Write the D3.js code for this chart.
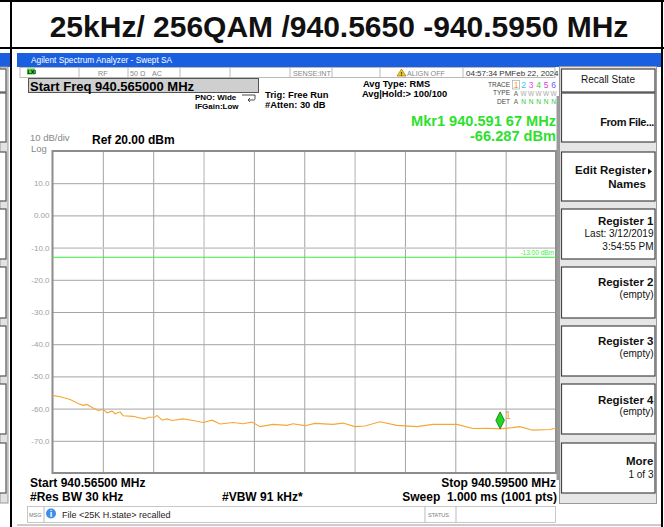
<!DOCTYPE html>
<html>
<head>
<meta charset="utf-8">
<script src="https://cdn.jsdelivr.net/npm/d3@7"></script>
<style>
body { margin: 0; background: #fff; }
svg { display: block; font-family: "Liberation Sans", Arial, sans-serif; }
</style>
</head>
<body>
<script>
const title = "25kHz/ 256QAM /940.5650 -940.5950 MHz"
const startFreq = 940.565
const stopFreq = 940.595
const refLevel = 20
const dbPerDiv = 10
const yTickValues = [10, 0, -10, -20, -30, -40, -50, -60, -70]
const yTickLabels = ["10.0", "0.00", "-10.0", "-20.0", "-30.0", "-40.0", "-50.0", "-60.0", "-70.0"]
const limitLevel = -13
const limitLabel = "-13.00 dBm"

const traceFreq = [940.56500, 940.56546, 940.56605, 940.56653, 940.56683, 940.56705, 940.56742, 940.56772,
    940.56802, 940.56826, 940.56855, 940.56873, 940.56903, 940.56921, 940.56980, 940.57022, 940.57052,
    940.57070, 940.57111, 940.57123, 940.57153, 940.57183, 940.57213, 940.57278, 940.57338, 940.57397,
    940.57451, 940.57498, 940.57576, 940.57635, 940.57689, 940.57736, 940.57814, 940.57897, 940.57933,
    940.58004, 940.58064, 940.58171, 940.58231, 940.58302, 940.58362, 940.58451, 940.58552, 940.58671,
    940.58766, 940.58909, 940.59004, 940.59087, 940.59167, 940.59242, 940.59284, 940.59361, 940.59463, 940.59500]
const traceLevel = [-55.9, -56.3, -57.2, -58.4, -59.0, -58.7, -59.8, -60.6,
    -60.3, -61.3, -60.8, -61.6, -61.0, -62.2, -62.4, -62.9, -63.2,
    -62.7, -62.6, -62.1, -63.6, -63.2, -63.7, -63.2, -63.7, -64.3,
    -63.6, -64.8, -64.3, -64.7, -64.2, -65.6, -64.9, -65.2, -64.7,
    -65.3, -64.6, -64.9, -64.5, -65.6, -65.4, -64.1, -65.2, -65.6,
    -64.9, -64.9, -66.2, -66.1, -66.29, -65.9, -65.6, -66.7, -66.5, -66.1]

const markerFreq = 940.59167
const markerLevel = -66.287

const softkeyLabels = [
    ["Recall State"],
    ["From File..."],
    ["Edit Register", "Names"],
    ["Register 1", "Last: 3/12/2019", "3:54:55 PM"],
    ["Register 2", "(empty)"],
    ["Register 3", "(empty)"],
    ["Register 4", "(empty)"],
    ["More", "1 of 3"]
]
const statusCells = ["RF", "50 Ω", "AC", "", "", "SENSE:INT", "ALIGN OFF", "04:57:34 PMFeb 22, 2024"]
const traceNumbers = ["1", "2", "3", "4", "5", "6"]
const traceColors = ["#f0a030", "#30c8e8", "#f040f0", "#40d040", "#e040d0", "#6a5cf0"]

//------------------------------------------------------------------------------

const W = 664, H = 527
const svg = d3.select("body").append("svg")
    .attr("width", W)
    .attr("height", H)

svg.append("rect").attr("width", W).attr("height", H).attr("fill", "#fff")

// title cell + black frame
svg.append("text")
    .attr("x", 339)
    .attr("y", 37)
    .attr("text-anchor", "middle")
    .attr("font-size", 30)
    .attr("font-weight", "bold")
    .attr("fill", "#111")
    .text(title)

svg.append("rect").attr("x", 0).attr("y", 0).attr("width", W).attr("height", 2).attr("fill", "#000")
svg.append("rect").attr("x", 0).attr("y", 47).attr("width", W).attr("height", 2).attr("fill", "#000")
svg.append("rect").attr("x", 10).attr("y", 0).attr("width", 2).attr("height", H).attr("fill", "#000")
svg.append("rect").attr("x", 661).attr("y", 0).attr("width", 2).attr("height", H).attr("fill", "#000")

// neighbour screenshot cut at the left
const keyBoxes = [[69, 92], [93, 142], [152, 201], [209, 259], [267, 318], [326, 376], [384, 434], [443, 493]]
svg.append("rect").attr("x", 0).attr("y", 53).attr("width", 10).attr("height", 14).attr("fill", "#1a5fe0")
svg.append("rect").attr("x", 0).attr("y", 67).attr("width", 8).attr("height", 436)
    .attr("fill", "#e2e2e2").attr("stroke", "#999")
keyBoxes.forEach(b => {
    svg.append("rect").attr("x", -20).attr("y", b[0]).attr("width", 26).attr("height", b[1] - b[0])
        .attr("fill", "#fff").attr("stroke", "#555").attr("stroke-width", 1.2)
})

//------------------------------------------------------------------------------
// analyzer window

svg.append("rect").attr("x", 17).attr("y", 53).attr("width", 644).attr("height", 14).attr("fill", "#1a5fe0")
svg.append("text").attr("x", 31).attr("y", 63).attr("font-size", 8.3).attr("fill", "#fff")
    .text("Agilent Spectrum Analyzer - Swept SA")

// status row
svg.append("rect").attr("x", 20).attr("y", 67.5).attr("width", 535).attr("height", 10)
    .attr("fill", "#fff").attr("stroke", "#aaa").attr("stroke-width", 0.8)
svg.append("rect").attr("x", 27).attr("y", 68.5).attr("width", 8).attr("height", 6).attr("fill", "#4cd43a")
svg.append("text").attr("x", 27.5).attr("y", 74).attr("font-size", 5.5).attr("font-weight", "bold").text("LXI")

const dividers = [79, 128, 180, 230, 290, 332, 380, 463]
dividers.forEach(dx => {
    svg.append("line").attr("x1", dx).attr("x2", dx).attr("y1", 67.5).attr("y2", 77.5)
        .attr("stroke", "#aaa").attr("stroke-width", 0.8)
})
const cellX = [98, 130, 152, 0, 0, 293, 407, 466]
statusCells.forEach((t, i) => {
    if (t === "") return
    svg.append("text").attr("x", cellX[i]).attr("y", 75.5)
        .attr("font-size", i === 7 ? 8 : 7.2)
        .attr("fill", i === 7 ? "#333" : "#888")
        .text(t)
})
svg.append("path").attr("d", "M401.5,69 L406,76 L397,76 Z").attr("fill", "#f2d020").attr("stroke", "#806000").attr("stroke-width", 0.6)
svg.append("text").attr("x", 401.5).attr("y", 75.5).attr("text-anchor", "middle").attr("font-size", 5.5)
    .attr("font-weight", "bold").text("!")

// active function box
svg.append("rect").attr("x", 28.5).attr("y", 78.5).attr("width", 230).attr("height", 14)
    .attr("fill", "#cfcfcf").attr("stroke", "#555").attr("stroke-width", 1)
svg.append("text").attr("x", 30).attr("y", 90.5).attr("font-size", 13).attr("font-weight", "bold")
    .text("Start Freq 940.565000 MHz")

svg.append("text").attr("x", 195).attr("y", 99.5).attr("font-size", 8).attr("font-weight", "bold").text("PNO: Wide")
svg.append("text").attr("x", 195).attr("y", 108.5).attr("font-size", 8).attr("font-weight", "bold").text("IFGain:Low")
svg.append("path").attr("d", "M242,95 L255,95 L255,98.5 Q255,100 253.5,100 L248,100 M250,98 L248,100 L250,102")
    .attr("fill", "none").attr("stroke", "#333").attr("stroke-width", 0.9)

svg.append("text").attr("x", 265).attr("y", 98).attr("font-size", 9.4).attr("font-weight", "bold").text("Trig: Free Run")
svg.append("text").attr("x", 265).attr("y", 108).attr("font-size", 9.4).attr("font-weight", "bold").text("#Atten: 30 dB")

svg.append("text").attr("x", 363).attr("y", 86.5).attr("font-size", 9.3).attr("font-weight", "bold").text("Avg Type: RMS")
svg.append("text").attr("x", 362).attr("y", 97).attr("font-size", 9.3).attr("font-weight", "bold").text("Avg|Hold:> 100/100")

// trace header
const hdr = svg.append("g").attr("font-size", 6.5)
hdr.append("text").attr("x", 510).attr("y", 86.5).attr("text-anchor", "end").attr("fill", "#444").text("TRACE")
hdr.append("text").attr("x", 510).attr("y", 95).attr("text-anchor", "end").attr("fill", "#444").text("TYPE")
hdr.append("text").attr("x", 510).attr("y", 104).attr("text-anchor", "end").attr("fill", "#444").text("DET")
hdr.append("rect").attr("x", 512.5).attr("y", 80.5).attr("width", 7).attr("height", 8.5)
    .attr("fill", "none").attr("stroke", "#aaa").attr("stroke-width", 0.7)
traceNumbers.forEach((n, i) => {
    const tx = 516 + i * 7.5
    hdr.append("text").attr("x", tx).attr("y", 87.5).attr("text-anchor", "middle")
        .attr("font-size", 8.5).attr("fill", traceColors[i]).text(n)
    hdr.append("text").attr("x", tx).attr("y", 95.5).attr("text-anchor", "middle")
        .attr("fill", i === 0 ? "#666" : "#aaa").text(i === 0 ? "A" : "W")
    hdr.append("text").attr("x", tx).attr("y", 104).attr("text-anchor", "middle")
        .attr("fill", i === 0 ? "#666" : "#2cc82c").text(i === 0 ? "A" : "N")
})

// marker readout
svg.append("text").attr("x", 556).attr("y", 125.5).attr("text-anchor", "end")
    .attr("font-size", 14).attr("font-weight", "bold").attr("fill", "#2ee02e")
    .attr("textLength", 145).attr("lengthAdjust", "spacingAndGlyphs")
    .text("Mkr1 940.591 67 MHz")
svg.append("text").attr("x", 556).attr("y", 140.5).attr("text-anchor", "end")
    .attr("font-size", 14).attr("font-weight", "bold").attr("fill", "#2ee02e")
    .attr("textLength", 86).attr("lengthAdjust", "spacingAndGlyphs")
    .text("-66.287 dBm")

svg.append("text").attr("x", 30).attr("y", 141).attr("font-size", 9.5).attr("fill", "#888").text("10 dB/div")
svg.append("text").attr("x", 31).attr("y", 152).attr("font-size", 9.5).attr("fill", "#888").text("Log")
svg.append("text").attr("x", 92).attr("y", 144).attr("font-size", 12).attr("font-weight", "bold").text("Ref 20.00 dBm")

//------------------------------------------------------------------------------
// graticule

const gLeft = 52.5, gRight = 556, gTop = 151, gBottom = 473

let x = d3.scaleLinear()
    .domain([startFreq, stopFreq])
    .range([gLeft, gRight])

let y = d3.scaleLinear()
    .domain([refLevel - 10 * dbPerDiv, refLevel])
    .range([gBottom, gTop])

const xGrid = d3.range(1, 10).map(i => startFreq + i * (stopFreq - startFreq) / 10)
const yGrid = d3.range(1, 10).map(i => refLevel - i * dbPerDiv)

svg.append("g")
    .attr("transform", "translate(0," + gBottom + ")")
    .call(d3.axisBottom(x).tickValues(xGrid).tickSize(-(gBottom - gTop)).tickFormat(""))
    .call(g => g.select(".domain").remove())
    .call(g => g.selectAll(".tick line")
        .attr("stroke", (d, i) => (i === 2 || i === 5) ? "#cfcfcf" : "#a4a4a4")
        .attr("stroke-width", (d, i) => (i === 2 || i === 5) ? 1.6 : 1))

svg.append("g")
    .attr("transform", "translate(" + gLeft + ",0)")
    .call(d3.axisLeft(y).tickValues(yGrid).tickSize(-(gRight - gLeft)).tickFormat(""))
    .call(g => g.select(".domain").remove())
    .call(g => g.selectAll(".tick line")
        .attr("stroke", d => d === -10 ? "#cfcfcf" : "#a4a4a4")
        .attr("stroke-width", d => d === -10 ? 1.6 : 1))

svg.append("g")
    .attr("transform", "translate(" + gLeft + ",0)")
    .call(d3.axisLeft(y).tickValues(yTickValues).tickSize(0).tickPadding(3)
        .tickFormat((d, i) => yTickLabels[i]))
    .call(g => g.select(".domain").remove())
    .call(g => g.selectAll("text")
        .attr("font-family", "'Liberation Sans', Arial, sans-serif")
        .attr("font-size", 8)
        .attr("fill", "#a0a0a0"))

svg.append("rect")
    .attr("x", gLeft).attr("y", gTop)
    .attr("width", gRight - gLeft).attr("height", gBottom - gTop)
    .attr("fill", "none").attr("stroke", "#8c8c8c").attr("stroke-width", 2)

svg.append("rect").attr("x", 556.5).attr("y", 96).attr("width", 3).attr("height", 384).attr("fill", "#9a9a9a")

// display line
svg.append("line")
    .attr("x1", gLeft).attr("x2", gRight)
    .attr("y1", y(limitLevel)).attr("y2", y(limitLevel))
    .attr("stroke", "#3cf03c").attr("stroke-width", 1)
svg.append("text")
    .attr("x", gRight - 2).attr("y", y(limitLevel) - 2.5)
    .attr("text-anchor", "end").attr("font-size", 6.5).attr("fill", "#3cf03c")
    .text(limitLabel)

// trace
const traceData = traceFreq.map((f, i) => [f, traceLevel[i]])
svg.append("path")
    .datum(traceData)
    .attr("d", d3.line().x(d => x(d[0])).y(d => y(d[1])))
    .attr("fill", "none")
    .attr("stroke", "#f6a632")
    .attr("stroke-width", 1.1)

// marker
const mx = x(markerFreq), my = y(markerLevel)
svg.append("path")
    .attr("d", `M${mx},${my} L${mx + 4.3},${my - 8.5} L${mx},${my - 17} L${mx - 4.3},${my - 8.5} Z`)
    .attr("fill", "#22d622").attr("stroke", "#0b6e0b").attr("stroke-width", 0.8)
svg.append("text").attr("x", mx + 5).attr("y", my - 10).attr("font-size", 11).attr("fill", "#f6a632").text("1")

//------------------------------------------------------------------------------
// bottom annotations

const foot = svg.append("g").attr("font-size", 12).attr("font-weight", "bold")
foot.append("text").attr("x", 30).attr("y", 487).text("Start 940.56500 MHz")
foot.append("text").attr("x", 30).attr("y", 501).text("#Res BW 30 kHz")
foot.append("text").attr("x", 222).attr("y", 501).text("#VBW 91 kHz*")
foot.append("text").attr("x", 556).attr("y", 487).attr("text-anchor", "end").text("Stop 940.59500 MHz")
foot.append("text").attr("x", 557).attr("y", 501).attr("text-anchor", "end").attr("xml:space", "preserve")
    .text("Sweep  1.000 ms (1001 pts)")

svg.append("rect").attr("x", 27.5).attr("y", 506.5).attr("width", 528).attr("height", 16)
    .attr("fill", "#fff").attr("stroke", "#bbb").attr("stroke-width", 0.8)
svg.append("line").attr("x1", 44).attr("x2", 44).attr("y1", 506.5).attr("y2", 522.5).attr("stroke", "#bbb")
svg.append("line").attr("x1", 425).attr("x2", 425).attr("y1", 506.5).attr("y2", 522.5).attr("stroke", "#bbb")
svg.append("line").attr("x1", 456).attr("x2", 456).attr("y1", 506.5).attr("y2", 522.5).attr("stroke", "#bbb")
svg.append("text").attr("x", 29).attr("y", 517).attr("font-size", 5.5).attr("fill", "#777").text("MSG")
svg.append("circle").attr("cx", 51).attr("cy", 513.5).attr("r", 5).attr("fill", "#3d8ee8")
svg.append("text").attr("x", 51).attr("y", 517).attr("text-anchor", "middle").attr("font-size", 9)
    .attr("font-weight", "bold").attr("fill", "#fff").text("i")
svg.append("text").attr("x", 62).attr("y", 518).attr("font-size", 9).attr("fill", "#222").text("File <25K H.state> recalled")
svg.append("text").attr("x", 428).attr("y", 516.5).attr("font-size", 5.5).attr("fill", "#777").text("STATUS")
svg.append("line").attr("x1", 17).attr("x2", 661).attr("y1", 525).attr("y2", 525).attr("stroke", "#999")

//------------------------------------------------------------------------------
// softkey panel

svg.append("rect").attr("x", 559.5).attr("y", 66.5).attr("width", 97).attr("height", 437)
    .attr("fill", "#e6e6e6").attr("stroke", "#999").attr("stroke-width", 1)

const keyTextY = [[83], [126], [174, 188], [225, 237, 250], [286, 297.5], [345, 356.5], [403.5, 415], [465, 478]]

softkeyLabels.forEach((lines, k) => {
    const b = keyBoxes[k]
    svg.append("rect").attr("x", 561.5).attr("y", b[0]).attr("width", 93.5).attr("height", b[1] - b[0])
        .attr("fill", "#fff").attr("stroke", "#444").attr("stroke-width", 1.2)
    lines.forEach((t, j) => {
        const first = j === 0
        const txt = svg.append("text")
            .attr("y", keyTextY[k][j])
            .attr("fill", "#111")
        if (k === 0) {
            txt.attr("x", 608).attr("text-anchor", "middle").attr("font-size", 10)
        } else if (k === 2) {
            txt.attr("x", 646).attr("text-anchor", "end").attr("font-size", 11.5).attr("font-weight", "bold")
        } else if (k === 1) {
            txt.attr("x", 654).attr("text-anchor", "end").attr("font-size", 11).attr("font-weight", "bold")
                .attr("letter-spacing", -0.4)
        } else {
            txt.attr("x", 653.5).attr("text-anchor", "end")
                .attr("font-size", first ? 11.5 : 10)
                .attr("font-weight", first ? "bold" : "normal")
        }
        txt.text(t)
    })
})
svg.append("path").attr("d", "M648,168.5 L652,171.5 L648,174.5 Z").attr("fill", "#111")
</script>
</body>
</html>
